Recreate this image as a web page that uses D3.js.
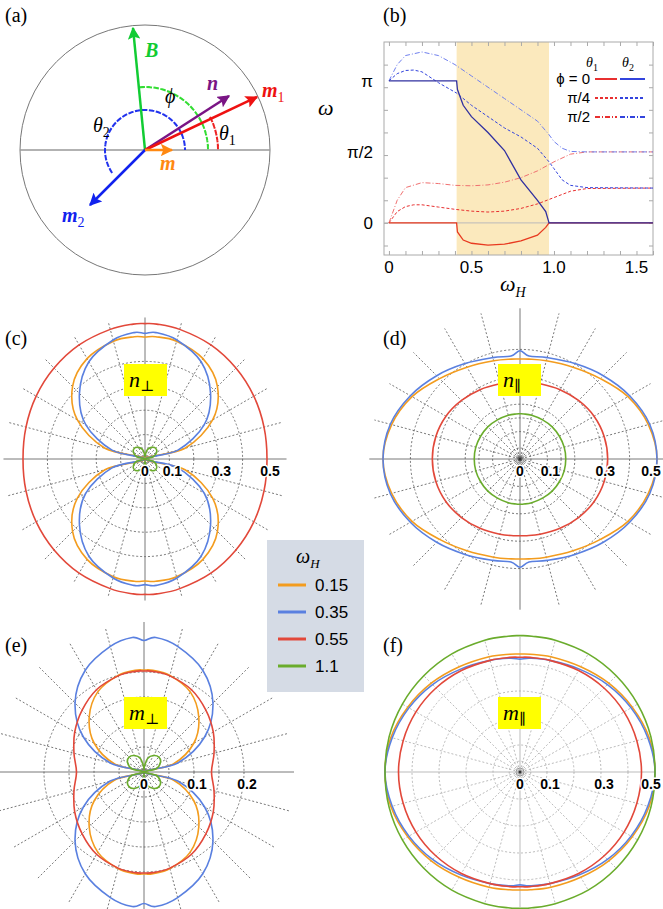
<!DOCTYPE html>
<html><head><meta charset="utf-8">
<script src="https://cdn.jsdelivr.net/npm/d3@7"></script>
<style>body{margin:0;background:#fff}svg{display:block}</style>
</head><body>
<svg id="fig" width="663" height="909"></svg>
<script>
// ---- panel (b) data: [omega_H, angle] ----
const t1_phi0 = [[0,0],[0.41,0],[0.415,-0.2],[0.45,-0.38],[0.5,-0.45],[0.6,-0.49],[0.7,-0.47],[0.8,-0.4],[0.9,-0.27],[0.95,-0.1],[0.97,0],[1.6,0]];
const t2_phi0 = [[0,Math.PI],[0.41,Math.PI],[0.415,2.95],[0.45,2.6],[0.5,2.35],[0.6,2.0],[0.7,1.6],[0.8,0.95],[0.9,0.5],[0.95,0.25],[0.97,0],[1.6,0]];
const t1_phi4 = [[0,0],[0.05,0.25],[0.1,0.36],[0.15,0.4],[0.2,0.4],[0.3,0.35],[0.4,0.3],[0.5,0.26],[0.6,0.24],[0.7,0.26],[0.8,0.32],[0.9,0.42],[1.0,0.56],[1.1,0.7],[1.2,0.76],[1.6,0.77]];
const t2_phi4 = [[0,Math.PI],[0.05,3.3],[0.1,3.37],[0.15,3.38],[0.2,3.34],[0.3,3.1],[0.41,2.87],[0.5,2.6],[0.6,2.35],[0.7,2.1],[0.8,1.9],[0.9,1.65],[0.97,1.35],[1.0,1.2],[1.05,0.95],[1.1,0.83],[1.2,0.78],[1.6,0.77]];
const t1_phi2 = [[0,0],[0.05,0.5],[0.1,0.78],[0.2,0.89],[0.3,0.87],[0.4,0.83],[0.5,0.82],[0.6,0.84],[0.7,0.9],[0.8,1.0],[0.9,1.15],[1.0,1.35],[1.1,1.52],[1.2,1.57],[1.6,1.57]];
const t2_phi2 = [[0,Math.PI],[0.05,3.5],[0.1,3.7],[0.2,3.78],[0.3,3.7],[0.4,3.5],[0.5,3.25],[0.6,3.0],[0.7,2.75],[0.8,2.5],[0.9,2.25],[0.97,1.95],[1.0,1.8],[1.05,1.65],[1.1,1.58],[1.2,1.57],[1.6,1.57]];
const bandRange = [0.41, 0.97];
const xTicks = [0, 0.5, 1.0, 1.5];
const yTicks = [[0,"0"],[Math.PI/2,"π/2"],[Math.PI,"π"]];

// ---- polar panels: r at these angles (deg, first quadrant, mirrored) ----
const angles = [0,15,30,45,60,75,85,90];
const wH = ["0.15","0.35","0.55","1.1"];
const colors = ["#f39c1e","#5a80e0","#e2483a","#6aac2c"];
const nPerp = [ // orange, blue, red, green
  [0,0.17,0.32,0.42,0.475,0.5,0.503,0.5],
  [0,0.14,0.28,0.38,0.46,0.505,0.52,0.515],
  [0.5,0.505,0.515,0.527,0.54,0.55,0.555,0.555],
  [0,0.035,0.055,0.062,0.055,0.04,0.02,0.01]];
const nPar = [
  [0.5,0.485,0.455,0.415,0.387,0.371,0.366,0.365],
  [0.5,0.49,0.462,0.43,0.402,0.383,0.377,0.395],
  [0.32,0.318,0.312,0.302,0.292,0.284,0.281,0.28],
  [0.167,0.167,0.166,0.166,0.165,0.165,0.165,0.165]];
const mPerp = [
  [0,0.06,0.115,0.155,0.185,0.2,0.204,0.204],
  [0,0.07,0.14,0.195,0.235,0.26,0.27,0.263],
  [0.135,0.145,0.16,0.175,0.19,0.199,0.202,0.202],
  [0,0.025,0.038,0.042,0.038,0.028,0.012,0.005]];
const mPar = [
  [0.5,0.495,0.48,0.465,0.45,0.442,0.438,0.437],
  [0.5,0.49,0.475,0.458,0.44,0.428,0.423,0.418],
  [0.45,0.448,0.445,0.44,0.434,0.428,0.426,0.425],
  [0.5,0.502,0.503,0.504,0.505,0.505,0.505,0.505]];

const svg = d3.select("#fig");
const serif = "'Liberation Serif','DejaVu Serif',serif";
const sans = "'Liberation Sans',Arial,sans-serif";

function plabel(x, y, t) {
  svg.append("text").attr("x", x).attr("y", y).attr("font-family", serif)
    .attr("font-size", 20).text(t);
}
plabel(5, 22, "(a)"); plabel(383, 22, "(b)");
plabel(5, 345, "(c)"); plabel(383, 345, "(d)");
plabel(5, 652, "(e)"); plabel(383, 652, "(f)");

// ---------- (a) ----------
const a = svg.append("g");
const defs = svg.append("defs");
function marker(id, c) {
  defs.append("marker").attr("id", id).attr("viewBox", "0 0 10 10").attr("refX", 9).attr("refY", 5)
    .attr("markerWidth", 5).attr("markerHeight", 5).attr("orient", "auto")
    .append("path").attr("d", "M0,0L10,5L0,10L2,5Z").attr("fill", c);
}
a.append("ellipse").attr("cx", 145).attr("cy", 150).attr("rx", 125).attr("ry", 125)
  .attr("fill", "none").attr("stroke", "#777");
a.append("line").attr("x1", 20).attr("x2", 270).attr("y1", 150).attr("y2", 150).attr("stroke", "#999").attr("stroke-width", 1.5);
const arc = d3.arc();
function darc(r, a0, a1, c) { // angles in deg from +x, ccw
  a.append("path").attr("transform", "translate(145,150)")
    .attr("d", arc({innerRadius: r, outerRadius: r, startAngle: (90 - a1) * Math.PI / 180, endAngle: (90 - a0) * Math.PI / 180}))
    .attr("fill", "none").attr("stroke", c).attr("stroke-width", 2).attr("stroke-dasharray", "4,3");
}
darc(40, 0, 215, "#2233ee");
darc(63, 0, 95, "#33dd33");
darc(73, 0, 27, "#ee2222");
const arrows = [["B","#11cc33",133,28],["n","#7a1585",229,96],["m1","#ee1111",257,97],["m2","#1122ee",90,205],["m","#ff8811",172,150]];
arrows.forEach(([k, c, x, y]) => {
  marker("ar" + k, c);
  a.append("line").attr("x1", 145).attr("y1", 150).attr("x2", x).attr("y2", y)
    .attr("stroke", c).attr("stroke-width", 2.5).attr("marker-end", `url(#ar${k})`);
});
function mlab(x, y, c, t, sub) {
  const tx = a.append("text").attr("x", x).attr("y", y).attr("fill", c).attr("font-family", serif)
    .attr("font-size", 20).attr("font-style", "italic").attr("font-weight", "bold");
  tx.append("tspan").text(t);
  if (sub) tx.append("tspan").attr("dy", 5).attr("font-size", 14).attr("font-style", "normal").attr("font-weight", "normal").text(sub);
}
mlab(145, 57, "#11cc33", "B");
mlab(207, 90, "#7a1585", "n");
mlab(262, 97, "#ee1111", "m", "1");
mlab(62, 222, "#1122ee", "m", "2");
mlab(160, 170, "#ff8811", "m");
a.append("text").attr("x", 165).attr("y", 103).attr("font-family", serif).attr("font-size", 20).attr("font-style", "italic").text("ϕ");
a.append("text").attr("x", 93).attr("y", 132).attr("font-family", serif).attr("font-size", 20).attr("font-style", "italic").text("θ").append("tspan").attr("dy", 5).attr("font-size", 14).attr("font-style", "normal").text("2");
a.append("text").attr("x", 219).attr("y", 140).attr("font-family", serif).attr("font-size", 20).attr("font-style", "italic").text("θ").append("tspan").attr("dy", 5).attr("font-size", 14).attr("font-style", "normal").text("1");

// ---------- (b) ----------
const bx = d3.scaleLinear().domain([-0.03, 1.6]).range([384, 653]);
const by = d3.scaleLinear().domain([-0.71, 4.0]).range([255, 42]);
const b = svg.append("g");
b.append("rect").attr("x", bx(bandRange[0])).attr("width", bx(bandRange[1]) - bx(bandRange[0]))
  .attr("y", 42).attr("height", 213).attr("fill", "#fbe9bd");
b.append("rect").attr("x", 384).attr("y", 42).attr("width", 269).attr("height", 213)
  .attr("fill", "none").attr("stroke", "#aaa");
b.append("line").attr("x1", 384).attr("x2", 653).attr("y1", by(0)).attr("y2", by(0)).attr("stroke", "#bbb");
const tickStyle = g => { g.select(".domain").remove(); g.selectAll("line").attr("stroke", "#aaa"); };
b.append("g").attr("transform", "translate(0,255)").call(d3.axisBottom(bx).tickValues(d3.range(0, 1.61, 0.1)).tickSize(-4).tickFormat("")).call(tickStyle);
b.append("g").attr("transform", "translate(0,42)").call(d3.axisTop(bx).tickValues(d3.range(0, 1.61, 0.1)).tickSize(-4).tickFormat("")).call(tickStyle);
b.append("g").attr("transform", "translate(384,0)").call(d3.axisLeft(by).tickValues(d3.range(-0.5, 4, 0.5)).tickSize(-4).tickFormat("")).call(tickStyle);
b.append("g").attr("transform", "translate(653,0)").call(d3.axisRight(by).tickValues(d3.range(-0.5, 4, 0.5)).tickSize(-4).tickFormat("")).call(tickStyle);
xTicks.forEach(v => b.append("text").attr("x", bx(v)).attr("y", 273).attr("text-anchor", "middle")
  .attr("font-family", sans).attr("font-size", 17).text(v === 0 ? "0" : v.toFixed(1)));
yTicks.forEach(([v, t]) => b.append("text").attr("x", 373).attr("y", by(v) + 6).attr("text-anchor", "end")
  .attr("font-family", sans).attr("font-size", 17).text(t));
b.append("text").attr("x", 318).attr("y", 115).attr("font-family", serif).attr("font-size", 22).attr("font-style", "italic").text("ω");
b.append("text").attr("x", 500).attr("y", 291).attr("font-family", serif).attr("font-size", 22).attr("font-style", "italic").text("ω")
  .append("tspan").attr("dy", 6).attr("font-size", 14).text("H");
const line = d3.line().x(d => bx(d[0])).y(d => by(d[1]));
const series = [
  [t1_phi4, "#e83030", "3,2", 1], [t2_phi4, "#3344dd", "3,2", 1],
  [t1_phi2, "#f07070", "5,2,1,2", 1], [t2_phi2, "#7080ee", "5,2,1,2", 1],
  [t1_phi0, "#e83a20", null, 1.3], [t2_phi0, "#3030a0", null, 1.3]];
series.forEach(([d, c, da, w]) => b.append("path").attr("d", line(d)).attr("fill", "none")
  .attr("stroke", c).attr("stroke-width", w).attr("stroke-dasharray", da));
[["θ", "1", 586], ["θ", "2", 622]].forEach(([t, s, x]) => b.append("text").attr("x", x).attr("y", 67)
  .attr("font-family", serif).attr("font-size", 14).attr("font-style", "italic").text(t)
  .append("tspan").attr("dy", 4).attr("font-size", 10).attr("font-style", "normal").text(s));
[["ϕ = 0", 84, null], ["π/4", 103, "3,2"], ["π/2", 122, "5,2,1,2"]].forEach(([t, y, da]) => {
  b.append("text").attr("x", 590).attr("y", y).attr("text-anchor", "end").attr("font-family", sans)
    .attr("font-size", 15).text(t);
  b.append("line").attr("x1", 595).attr("x2", 617).attr("y1", y - 5).attr("y2", y - 5).attr("stroke", "#e83030").attr("stroke-width", 2).attr("stroke-dasharray", da);
  b.append("line").attr("x1", 620).attr("x2", 645).attr("y1", y - 5).attr("y2", y - 5).attr("stroke", "#3344dd").attr("stroke-width", 2).attr("stroke-dasharray", da);
});

// ---------- polar panels ----------
function polar(cx, cy, k, circles, spokeR, labels, sets, grid) {
  const g = svg.append("g").attr("transform", `translate(${cx},${cy})`);
  const r = d3.scaleLinear().domain([0, 1]).range([0, k]);
  circles.forEach(c => g.append("circle").attr("r", r(c)).attr("fill", "none").attr("stroke", grid)
    .attr("stroke-width", 0.8).attr("stroke-dasharray", "2,2"));
  d3.range(0, 180, 15).forEach(d => {
    const t = d * Math.PI / 180, R = r(spokeR);
    g.append("line").attr("x1", -R * Math.cos(t)).attr("y1", R * Math.sin(t)).attr("x2", R * Math.cos(t)).attr("y2", -R * Math.sin(t))
      .attr("stroke", grid).attr("stroke-width", 0.8).attr("stroke-dasharray", d % 90 === 0 ? null : "2,2");
  });
  g.append("circle").attr("r", 4).attr("fill", "none").attr("stroke", "#999");
  g.append("circle").attr("r", 1.5).attr("fill", "#333");
  const lr = d3.lineRadial().angle(d => Math.PI / 2 - d[0] * Math.PI / 180).radius(d => r(d[1]))
    .curve(d3.curveCardinalClosed.tension(0));
  sets.forEach((vals, i) => {
    const pts = angles.map((a, j) => [a, vals[j]]);
    const q2 = angles.slice(0, -1).reverse().map((a, j) => [180 - a, vals[angles.length - 2 - j]]);
    const h = pts.concat(q2);
    const full = h.concat(h.slice(1, -1).map(d => [d[0] + 180, d[1]]));
    g.append("path").attr("d", lr(full)).attr("fill", "none").attr("stroke", colors[i]).attr("stroke-width", 1.6);
  });
  labels.forEach(v => g.append("text").attr("x", Math.min(r(v) + (v === 0 ? 0 : 3), 663 - cx - 12)).attr("y", 17).attr("text-anchor", "middle")
    .attr("font-family", sans).attr("font-weight", "bold").attr("font-size", 14).attr("stroke", "#fff")
    .attr("stroke-width", 3).attr("paint-order", "stroke").text(v === 0 ? "0" : String(v)));
}
polar(145, 459, 244, [0.1, 0.2, 0.3, 0.4], 0.58, [0, 0.1, 0.3, 0.5], nPerp, "#555");
polar(520, 459, 274, [0.04, 0.1, 0.15, 0.2, 0.3, 0.4], 0.55, [0, 0.1, 0.3, 0.5], nPar, "#555");
polar(144, 772, 500, [0.05, 0.1, 0.15, 0.2], 0.3, [0, 0.1, 0.2], mPerp, "#555");
polar(520, 772, 270, [0.04, 0.1, 0.2, 0.3, 0.4], 0.5, [0, 0.1, 0.3, 0.5], mPar, "#aaa");

function tag(x, y, t, s) {
  svg.append("rect").attr("x", x).attr("y", y).attr("width", 43).attr("height", 32).attr("fill", "#ffff00");
  svg.append("text").attr("x", x + 5).attr("y", y + 23).attr("font-family", serif).attr("font-style", "italic")
    .attr("font-size", 22).text(t).append("tspan").attr("dy", 4).attr("font-size", 15).attr("font-style", "normal").text(s);
}
tag(124, 364, "n", "⊥"); tag(498, 364, "n", "∥");
tag(124, 697, "m", "⊥"); tag(498, 697, "m", "∥");

const lg = svg.append("g");
lg.append("rect").attr("x", 267).attr("y", 540).attr("width", 97).attr("height", 152).attr("fill", "#d5dbe5");
lg.append("text").attr("x", 296).attr("y", 563).attr("font-family", serif).attr("font-size", 20).attr("font-style", "italic").text("ω")
  .append("tspan").attr("dy", 5).attr("font-size", 13).text("H");
wH.forEach((w, i) => {
  const y = 591 + i * 27;
  lg.append("line").attr("x1", 278).attr("x2", 306).attr("y1", y - 6).attr("y2", y - 6).attr("stroke", colors[i]).attr("stroke-width", 3);
  lg.append("text").attr("x", 315).attr("y", y).attr("font-family", sans).attr("font-size", 17).text(w);
});
</script>
</body></html>
